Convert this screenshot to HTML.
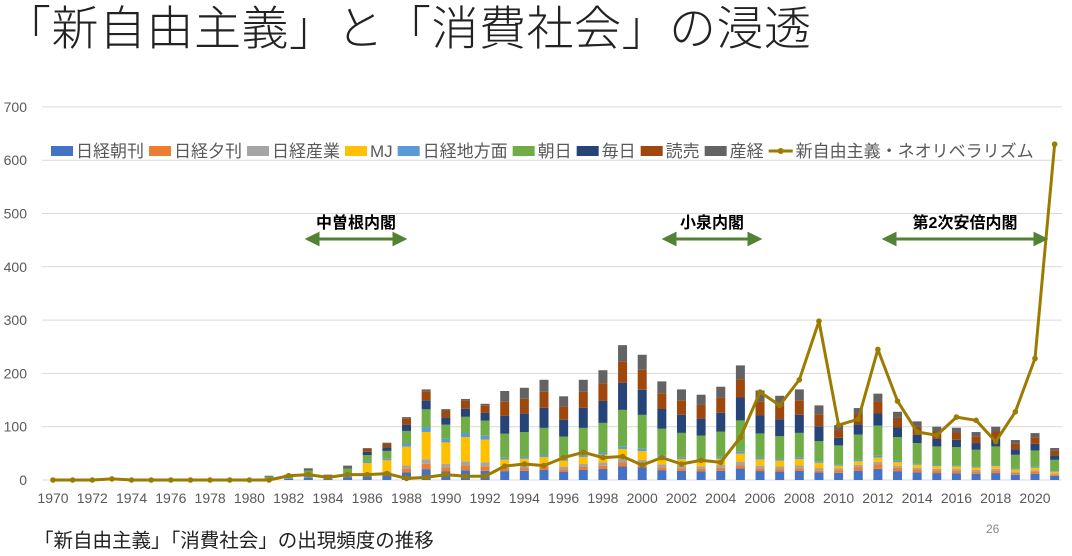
<!DOCTYPE html>
<html><head><meta charset="utf-8"><style>
body{margin:0;width:1072px;height:551px;background:#fff;overflow:hidden;font-family:"Liberation Sans","Noto Sans CJK JP",sans-serif;}
svg text{font-family:"Liberation Sans","Noto Sans CJK JP",sans-serif;}
</style></head><body>
<svg id="s" width="1072" height="551" xmlns="http://www.w3.org/2000/svg">
<text x="4" y="45" font-size="47" fill="#222" font-weight="300" letter-spacing="0.5">「新自由主義」と「消費社会」の浸透</text>
<g id="grid"></g>
<g id="bars"></g>
<g id="line"></g>
<g id="labels" font-size="14" fill="#595959"></g>
<g font-size="17" fill="#595959" id="legend"></g>
<g font-size="16" font-weight="bold" fill="#000" text-anchor="middle">
<text x="356" y="228">中曽根内閣</text>
<text x="712" y="228">小泉内閣</text>
<text x="965" y="228">第2次安倍内閣</text>
</g>
<g stroke="#548235" stroke-width="3" fill="#548235">
<line x1="316" y1="239" x2="396" y2="239"/><path d="M308 239 L318 234 L318 244Z"/><path d="M404 239 L394 234 L394 244Z"/>
<line x1="673" y1="239" x2="751" y2="239"/><path d="M665 239 L675 234 L675 244Z"/><path d="M759 239 L749 234 L749 244Z"/>
<line x1="893" y1="239" x2="1037" y2="239"/><path d="M885 239 L895 234 L895 244Z"/><path d="M1045 239 L1035 234 L1035 244Z"/>
</g>
<text x="34" y="547" font-size="19.5" fill="#222">「新自由主義」「消費社会」の出現頻度の推移</text>
<text x="986" y="533" font-size="12" fill="#888">26</text>
</svg>
<script>
const NS="http://www.w3.org/2000/svg";
function el(p,t,a,txt){const e=document.createElementNS(NS,t);for(const k in a)e.setAttribute(k,a[k]);if(txt!==undefined)e.textContent=txt;document.getElementById(p).appendChild(e);return e;}
const Y0=480,SC=0.533,X0=53,ST=19.64;
for(let v=0;v<=700;v+=100){const y=Y0-v*SC;if(v>0)el('grid','line',{x1:42,x2:1062,y1:y,y2:y,stroke:'#d9d9d9','stroke-width':1});
el('labels','text',{x:27,y:y+5,'text-anchor':'end'},String(v));}
el('grid','line',{x1:42,x2:1062,y1:Y0,y2:Y0,stroke:'#d9d9d9','stroke-width':1});
for(let yr=1970;yr<=2020;yr+=2)el('labels','text',{x:X0+(yr-1970)*ST,y:503,'text-anchor':'middle'},String(yr));
const tot={1981:8,1982:10,1983:22,1984:10,1985:27,1986:60,1987:70,1988:118,1989:170,1990:133,1991:152,1992:143,1993:167,1994:173,1995:188,1996:157,1997:188,1998:206,1999:253,2000:235,2001:185,2002:170,2003:160,2004:175,2005:215,2006:168,2007:158,2008:170,2009:140,2010:103,2011:135,2012:162,2013:128,2014:110,2015:100,2016:98,2017:90,2018:100,2019:75,2020:88,2021:60};
const cols=['#4472c4','#ed7d31','#a5a5a5','#ffc000','#5b9bd5','#70ad47','#264478','#9e480e','#636363'];
for(let yr=1970;yr<=2021;yr++){const T=tot[yr]||0;if(!T)continue;let p;
if(yr<1986)p=[.2,0,0,0,.2,.4,0,0,.2];else if(yr<=1992)p=[.12,.06,.05,.3,.05,.2,.1,.1,.02];else if(yr<=2009)p=[.1,.03,.03,.07,.02,.27,.2,.16,.12];else p=[.13,.05,.03,.05,.02,.35,.14,.14,.09];
let y=Y0;const x=X0+(yr-1970)*ST-4.5;
p.forEach((f,i)=>{const h=T*f*SC;if(h>0){y-=h;el('bars','rect',{x:x,y:y,width:9,height:h,fill:cols[i]});}});}
const ln={1973:2,1982:8,1983:10,1984:5,1985:10,1986:10,1987:12,1988:3,1989:5,1990:10,1991:7,1992:7,1993:26,1994:30,1995:27,1996:42,1997:52,1998:42,1999:44,2000:28,2001:42,2002:30,2003:37,2004:33,2005:80,2006:165,2007:140,2008:188,2009:298,2010:103,2011:114,2012:245,2013:148,2014:90,2015:84,2016:118,2017:112,2018:72,2019:128,2020:228,2021:630};
let pts=[];for(let yr=1970;yr<=2021;yr++){const v=ln[yr]||0;const x=X0+(yr-1970)*ST,y=Y0-v*SC;pts.push(x+','+y);el('line','circle',{cx:x,cy:y,r:2.8,fill:'#9c7b00'});}
el('line','polyline',{points:pts.join(' '),fill:'none',stroke:'#9c7b00','stroke-width':3,'stroke-linejoin':'round'});
const lg=[['日経朝刊',cols[0]],['日経夕刊',cols[1]],['日経産業',cols[2]],['MJ',cols[3]],['日経地方面',cols[4]],['朝日',cols[5]],['毎日',cols[6]],['読売',cols[7]],['産経',cols[8]]];
let lx=51;const ly=151;
lg.forEach(([t,c])=>{el('legend','rect',{x:lx,y:ly-5,width:22,height:10,fill:c});const tx=el('legend','text',{x:lx+25,y:ly+6},t);lx+=25+tx.getComputedTextLength()+5;});
el('legend','line',{x1:lx,x2:lx+24,y1:ly,y2:ly,stroke:'#9c7b00','stroke-width':3});
el('legend','circle',{cx:lx+12,cy:ly,r:3,fill:'#9c7b00'});
el('legend','text',{x:lx+27,y:ly+6},'新自由主義・ネオリベラリズム');
</script>
</body></html>
